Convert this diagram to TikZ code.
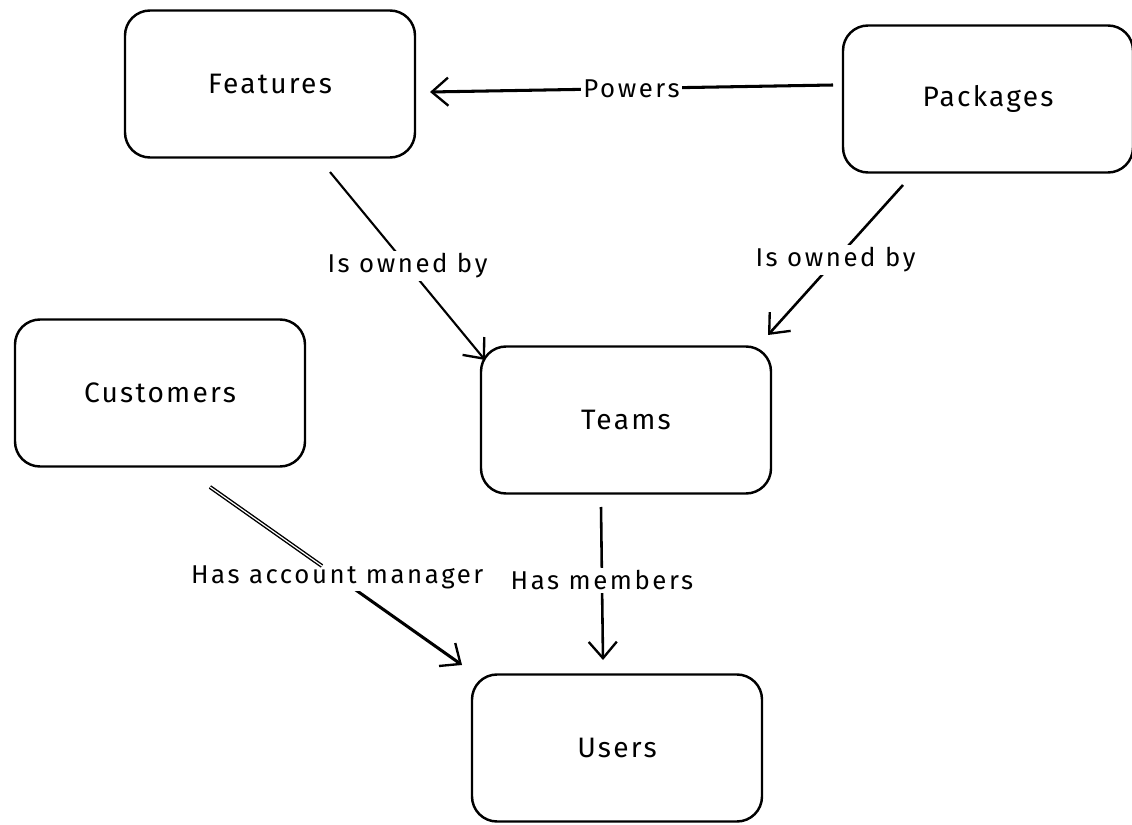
\documentclass[tikz,border=0pt]{standalone}
\usepackage{fontspec}
\setmainfont{Fira Sans}
\usetikzlibrary{arrows.meta}
\begin{document}
\begin{tikzpicture}[x=0.03cm,y=-0.03cm,
  ent/.style={draw=black,line width=2.1pt,rounded corners=0.75cm,minimum width=290*0.03cm,minimum height=147*0.03cm,font=\fontsize{24}{26}\selectfont\addfontfeatures{LetterSpace=8},fill=white},
  rel/.style={draw=black,line width=2.2pt,-{Straight Barb[length=14pt,width=24pt,line width=2pt]}},
  lab/.style={fill=white,inner sep=2pt,font=\fontsize{22}{24}\selectfont\addfontfeatures{LetterSpace=10}}]
\useasboundingbox (0,0) rectangle (1132,825);
\node[ent] (features) at (270,84) {Features};
\node[ent] (packages) at (988,99) {Packages};
\node[ent] (customers) at (160,393) {Customers};
\node[ent] (teams) at (626,420) {Teams};
\node[ent] (users) at (617,748) {Users};
\coordinate (pS) at (833,85);
\coordinate (pE) at (430,92);
\draw[rel,line width=2.6pt] (pS) -- (pE) node[lab,pos=0.5] {Powers};
\coordinate (fS) at (330,172);
\coordinate (fE) at (485,360);
\draw[rel,line width=1.8pt] (fS) -- (fE) node[lab,pos=0.5] {Is owned by};
\coordinate (kS) at (903,185);
\coordinate (kE) at (768,335);
\draw[rel] (kS) -- (kE) node[lab,pos=0.5] {Is owned by};
\coordinate (cS) at (210,487);
\coordinate (cE) at (462,665);
\coordinate (cM) at (322,566);
\draw[rel,line width=2.6pt] (cS) -- (cE) node[lab,pos=0.505] {Has account manager};
\draw[line width=3.4pt] (cS) -- (cM);
\draw[white,line width=1pt] (cS) -- (cM);
\coordinate (tS) at (601,507);
\coordinate (tE) at (603,660);
\draw[rel] (tS) -- (tE) node[lab,pos=0.48] {Has members};
\end{tikzpicture}
\end{document}
